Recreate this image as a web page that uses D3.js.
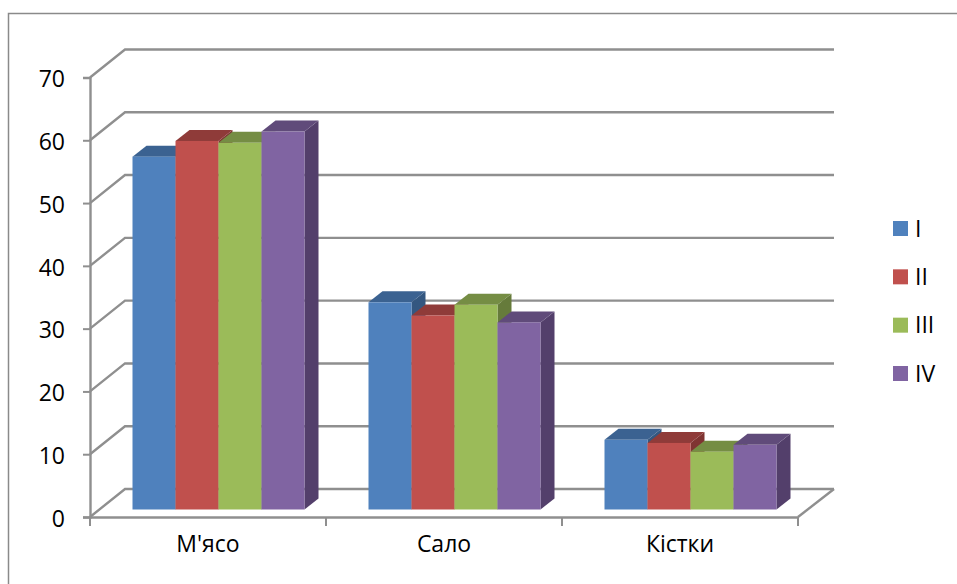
<!DOCTYPE html>
<html>
<head>
<meta charset="utf-8">
<script src="https://cdn.jsdelivr.net/npm/d3@7"></script>
<style>
  html, body { margin: 0; padding: 0; background: #fff; }
  svg { display: block; }
  text { font-family: "Open Sans", "Noto Sans", sans-serif; fill: #000; }
</style>
</head>
<body>
<svg id="chart" width="957" height="584"></svg>
<script>
const categories = ["М'ясо", "Сало", "Кістки"];
const seriesNames = ["I", "II", "III", "IV"];
const seriesI = [56.2, 33.0, 11.1];
const seriesII = [58.7, 30.9, 10.6];
const seriesIII = [58.4, 32.6, 9.2];
const seriesIV = [60.2, 29.8, 10.3];
const yTicks = [0, 10, 20, 30, 40, 50, 60, 70];
const frontColors = ["#4F81BD", "#C0504D", "#9BBB59", "#8064A2"];
const topColors = ["#3B6291", "#8F3B39", "#758D44", "#604B7A"];
const sideColors = ["#345780", "#7F3432", "#667B3B", "#533F6B"];
const allSeries = [seriesI, seriesII, seriesIII, seriesIV];

const svg = d3.select("#chart");
const gridColor = "#8F8F8F";
const labelSize = 23;

// Projection of the box: the back wall sits up and to the right of the front axes.
const wallDx = 35, wallDy = -28;
const barDx = 14, barDy = -11;
const barOffsetX = 10.5, barOffsetY = -7.5;

const x = d3.scaleBand().domain(categories).range([90, 798]);
const y = d3.scaleLinear().domain([0, 70]).range([517, 77.5]);
const series = d3.scaleBand().domain(seriesNames)
  .range([0, 172]).paddingInner(0);
const groupInset = (x.bandwidth() - series.range()[1]) / 2;

// Outer frame of the chart area, cropped on the right and bottom
svg.append("path")
  .attr("d", "M8.5,584V13.5H957")
  .attr("fill", "none").attr("stroke", "#8A8A8A").attr("stroke-width", 1.5);

// Back wall gridlines and their diagonals on the side wall
const walls = svg.append("g").attr("fill", "none")
  .attr("stroke", gridColor).attr("stroke-width", 2.4);
walls.selectAll("path.grid").data(yTicks).join("path")
  .attr("class", "grid")
  .attr("d", d => `M${x.range()[0]},${y(d)}L${x.range()[0] + wallDx},${y(d) + wallDy}H${x.range()[1] + wallDx + 1}`);
walls.append("path")
  .attr("d", `M${x.range()[1]},${y(0)}L${x.range()[1] + wallDx + 1},${y(0) + wallDy}`);

// Value axis
const yAxis = svg.append("g")
  .attr("transform", `translate(${x.range()[0]},0)`)
  .call(d3.axisLeft(y).tickValues(yTicks).tickSize(7).tickPadding(18));
yAxis.select(".domain").attr("stroke", gridColor).attr("stroke-width", 2.4);
yAxis.selectAll(".tick line").attr("stroke", gridColor).attr("stroke-width", 2);
yAxis.selectAll("text").attr("font-size", labelSize).attr("font-family", null).attr("dy", "0.4em");

// Category axis
const xAxis = svg.append("g")
  .attr("transform", `translate(0,${y(0)})`)
  .call(d3.axisBottom(x).tickSize(0).tickPadding(27));
xAxis.select(".domain").attr("stroke", gridColor).attr("stroke-width", 2.4);
xAxis.selectAll(".tick text").attr("font-size", labelSize).attr("font-family", null).attr("dy", "0.35em");
xAxis.selectAll(".tick line").remove();
xAxis.selectAll("line.edge").data([0, 1, 2, 3]).join("line")
  .attr("class", "edge")
  .attr("x1", i => x.range()[0] + i * x.step())
  .attr("x2", i => x.range()[0] + i * x.step())
  .attr("y1", 0).attr("y2", 9)
  .attr("stroke", gridColor).attr("stroke-width", 2);

// Bars are painted left to right so each front face covers its neighbour's side
const bars = svg.append("g");
categories.forEach((cat, c) => {
  seriesNames.forEach((name, s) => {
    const v = allSeries[s][c];
    const x0 = x(cat) + groupInset + barOffsetX + series(name);
    const x1 = x0 + series.bandwidth();
    const yb = y(0) + barOffsetY;
    const yt = yb - (y(0) - y(v));
    const bar = bars.append("g");
    bar.append("path")
      .attr("d", `M${x1},${yt}L${x1 + barDx},${yt + barDy}V${yb + barDy}L${x1},${yb}Z`)
      .attr("fill", sideColors[s]);
    bar.append("path")
      .attr("d", `M${x0},${yt}L${x0 + barDx},${yt + barDy}H${x1 + barDx}L${x1},${yt}Z`)
      .attr("fill", topColors[s]);
    bar.append("rect")
      .attr("x", x0).attr("y", yt)
      .attr("width", x1 - x0).attr("height", yb - yt)
      .attr("fill", frontColors[s]);
  });
});

// Legend
const legendY = d3.scalePoint().domain(seriesNames).range([228.5, 373.5]);
const legend = svg.append("g").selectAll("g").data(seriesNames).join("g")
  .attr("transform", d => `translate(893,${legendY(d)})`);
legend.append("rect")
  .attr("x", 0).attr("y", -7.5).attr("width", 15).attr("height", 15)
  .attr("fill", (d, i) => frontColors[i]);
legend.append("text")
  .attr("x", 22).attr("dy", "0.35em").attr("font-size", labelSize)
  .text(d => d);
</script>
</body>
</html>
